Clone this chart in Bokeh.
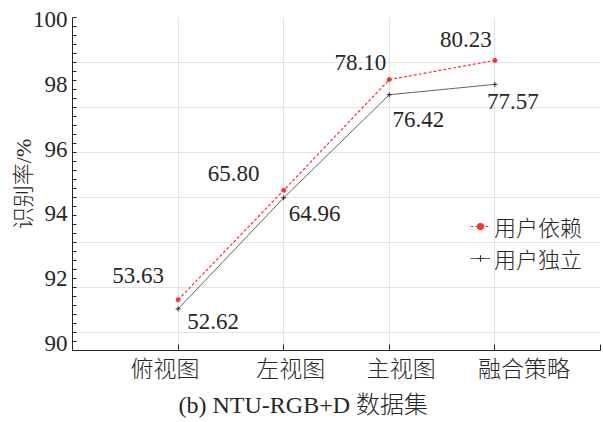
from bokeh.plotting import figure
from bokeh.models import (ColumnDataSource, FixedTicker, Range1d, Legend,
                          LegendItem, Title)
from bokeh.embed import file_html
from bokeh.resources import INLINE

# Data
views = ["俯视图", "左视图", "主视图", "融合策略"]
dependent = [53.63, 65.80, 78.10, 80.23]     # 用户依赖
independent = [52.62, 64.96, 76.42, 77.57]   # 用户独立
pct_ticks = [90, 92, 94, 96, 98, 100]        # left axis tick labels
caption = "(b) NTU-RGB+D 数据集"

# label offsets (pixels) for the value annotations
dep_dx = [-40, -50, -29, -29]
dep_dy = [-24, -17, -17, -21]
ind_dx = [35, 31, 29, 18]
ind_dy = [13, 16, 25, 17]
# horizontal shifts (pixels) of the category names under the axis
cat_dx = [-13, 7, 12, 29]

SERIF = "'Liberation Serif', serif"
CJK = "'Liberation Serif', 'Noto Sans CJK SC Light', 'Noto Sans CJK SC'"
INK = "#262626"

x = [i + 1 for i in range(len(views))]

# percent scale of the tick labels placed on the value scale
y_lo, y_hi = 48, 85
pct_lo, pct_hi = 89.79, 100.06
x_lo, x_hi = 0, 5
frame_w = 528


def to_value(t):
    return y_lo + (t - pct_lo) / (pct_hi - pct_lo) * (y_hi - y_lo)


tick_pos = [to_value(t) for t in pct_ticks]
px_per_x = frame_w / (x_hi - x_lo)
cat_pos = [xi + dx / px_per_x for xi, dx in zip(x, cat_dx)]

p = figure(width=603, height=422, output_backend="svg", toolbar_location=None,
           x_range=Range1d(x_lo, x_hi), y_range=Range1d(y_lo, y_hi),
           min_border_left=72, min_border_right=3, min_border_top=17,
           min_border_bottom=30)
p.outline_line_color = None
p.background_fill_color = "white"

# x axis: tick marks at the categories (drawn as minor ticks),
# names carried by zero-length major ticks
xa = p.xaxis[0]
xa.ticker = FixedTicker(ticks=cat_pos, minor_ticks=x + [x_hi])
xa.major_label_overrides = {pos: v for pos, v in zip(cat_pos, views)}
xa.major_tick_in = 0
xa.major_tick_out = 0
xa.minor_tick_in = 6
xa.minor_tick_out = 0
xa.axis_line_color = INK
xa.minor_tick_line_color = INK
xa.major_label_text_font = CJK
xa.major_label_text_font_size = "23px"
xa.major_label_text_color = INK
xa.major_label_standoff = 6

ya = p.yaxis[0]
ya.ticker = FixedTicker(ticks=tick_pos, minor_ticks=list(range(y_lo, y_hi + 1)))
ya.major_label_overrides = {pos: str(t) for pos, t in zip(tick_pos, pct_ticks)}
ya.major_tick_in = 0
ya.major_tick_out = 0
ya.minor_tick_in = 4
ya.minor_tick_out = 0
ya.axis_line_color = INK
ya.minor_tick_line_color = INK
ya.major_label_text_font = SERIF
ya.major_label_text_font_size = "23px"
ya.major_label_text_color = INK
ya.major_label_standoff = 5
ya.axis_label = "识别率/%"
ya.axis_label_text_font = CJK
ya.axis_label_text_font_size = "22px"
ya.axis_label_text_font_style = "normal"
ya.axis_label_text_color = INK
ya.axis_label_standoff = -6

# grid
p.xgrid.ticker = FixedTicker(ticks=x)
p.ygrid.ticker = FixedTicker(ticks=list(range(50, 86, 5)))
p.xgrid.grid_line_color = "#e3e3e3"
p.ygrid.grid_line_color = "#e3e3e3"

src = ColumnDataSource(dict(x=x, dep=dependent, ind=independent,
                            dep_t=[f"{v:.2f}" for v in dependent],
                            ind_t=[f"{v:.2f}" for v in independent],
                            dep_dx=dep_dx, dep_dy=dep_dy,
                            ind_dx=ind_dx, ind_dy=ind_dy))

RED = "#ff3030"
l1 = p.line("x", "dep", source=src, line_color=RED, line_width=1.2,
            line_dash="3 2")
m1 = p.scatter("x", "dep", source=src, size=4, color=RED)
l2 = p.line("x", "ind", source=src, line_color="#202020", line_width=0.7)
m2 = p.scatter("x", "ind", source=src, marker="cross", size=5,
               line_color="#202020", line_width=1)

common = dict(text_font_size="23px", text_color=INK, text_align="center",
              text_baseline="middle")
p.text("x", "dep", text="dep_t", source=src, x_offset="dep_dx",
       y_offset="dep_dy", text_font={"value": SERIF}, **common)
p.text("x", "ind", text="ind_t", source=src, x_offset="ind_dx",
       y_offset="ind_dy", text_font={"value": SERIF}, **common)

legend = Legend(items=[LegendItem(label="用户依赖", renderers=[l1, m1]),
                       LegendItem(label="用户独立", renderers=[l2, m2])],
                location=(398, 76), glyph_width=20, glyph_height=16,
                label_text_font=CJK, label_text_font_size="22px",
                label_text_color=INK, label_standoff=4, spacing=-8,
                padding=0, margin=0, background_fill_alpha=0,
                border_line_alpha=0, label_height=16)
p.add_layout(legend, "center")

title = Title(text=caption, align="left", offset=106,
              text_font=CJK, text_font_size="24px", text_font_style="normal",
              text_color=INK)
p.add_layout(title, "below")

open("out.html", "w").write(file_html(p, INLINE))
